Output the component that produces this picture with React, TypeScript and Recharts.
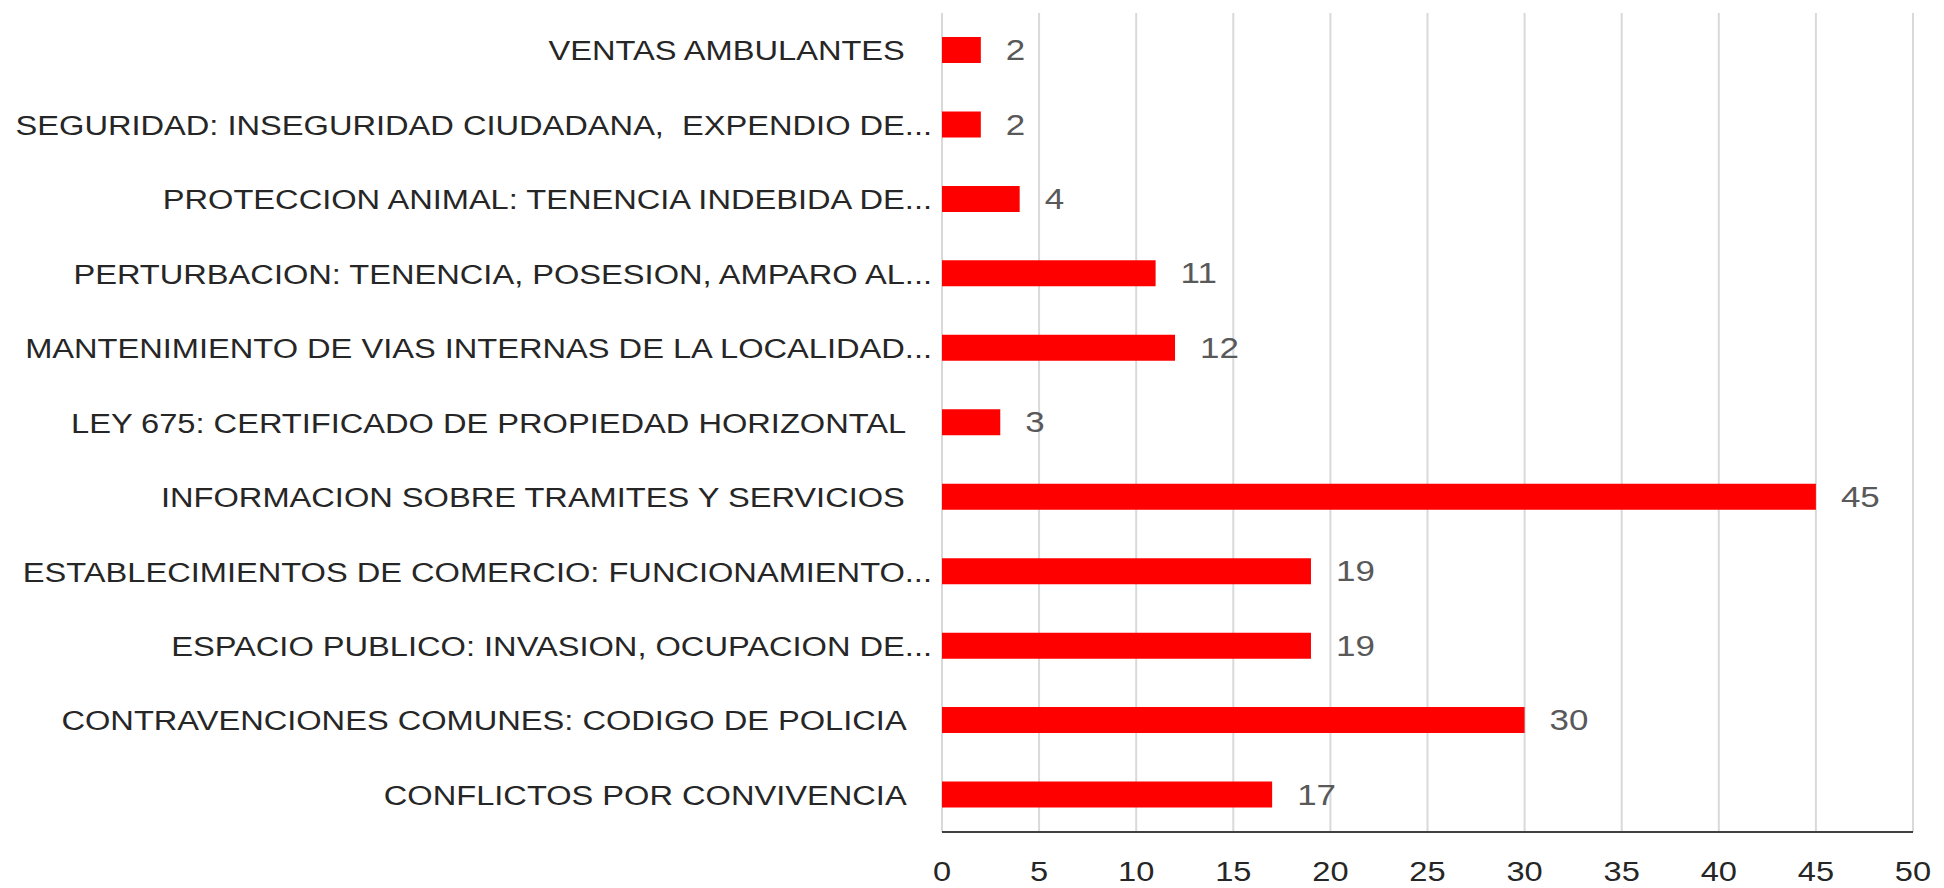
import React from "react";
import {
  BarChart,
  Bar,
  XAxis,
  YAxis,
  CartesianGrid,
  LabelList,
} from "recharts";

// categories top to bottom, as they appear in the chart
const categories = [
  "VENTAS AMBULANTES   ",
  "SEGURIDAD: INSEGURIDAD CIUDADANA,  EXPENDIO DE...",
  "PROTECCION ANIMAL: TENENCIA INDEBIDA DE...",
  "PERTURBACION: TENENCIA, POSESION, AMPARO AL...",
  "MANTENIMIENTO DE VIAS INTERNAS DE LA LOCALIDAD...",
  "LEY 675: CERTIFICADO DE PROPIEDAD HORIZONTAL   ",
  "INFORMACION SOBRE TRAMITES Y SERVICIOS   ",
  "ESTABLECIMIENTOS DE COMERCIO: FUNCIONAMIENTO...",
  "ESPACIO PUBLICO: INVASION, OCUPACION DE...",
  "CONTRAVENCIONES COMUNES: CODIGO DE POLICIA   ",
  "CONFLICTOS POR CONVIVENCIA   ",
];

const counts = [2, 2, 4, 11, 12, 3, 45, 19, 19, 30, 17];

const xTicks = [0, 5, 10, 15, 20, 25, 30, 35, 40, 45, 50];

const chartData = categories.map((name, i) => ({ name, count: counts[i] }));

const FONT = "'Liberation Sans', Arial, sans-serif";
const STRETCH = 1.165;

const CategoryTick = (props: any) => {
  const { x, y, payload } = props;
  return (
    <text
      x={0}
      y={0}
      transform={`translate(${x},${y}) scale(${STRETCH},1)`}
      textAnchor="end"
      dominantBaseline="central"
      xmlSpace="preserve"
      style={{ whiteSpace: "pre" }}
      fontFamily={FONT}
      fontSize={28}
      fill="#262626"
    >
      {payload.value}
    </text>
  );
};

const ValueTick = (props: any) => {
  const { x, y, payload } = props;
  return (
    <text
      x={0}
      y={0}
      transform={`translate(${x},${y}) scale(${STRETCH},1)`}
      textAnchor="middle"
      dominantBaseline="central"
      fontFamily={FONT}
      fontSize={28}
      fill="#262626"
    >
      {payload.value}
    </text>
  );
};

const BarValue = (props: any) => {
  const { x, y, width, height, value } = props;
  const lx = Number(x) + Number(width) + 25;
  const ly = Number(y) + Number(height) / 2;
  return (
    <text
      x={0}
      y={0}
      transform={`translate(${lx},${ly}) scale(${STRETCH},1)`}
      textAnchor="start"
      dominantBaseline="central"
      fontFamily={FONT}
      fontSize={30}
      fill="#595959"
    >
      {value}
    </text>
  );
};

const App = () => {
  return (
    <div style={{ width: 1944, height: 888, background: "#fff" }}>
      <style>{`body{margin:0;background:#fff;}`}</style>
      <BarChart
        width={1944}
        height={888}
        data={chartData}
        layout="vertical"
        margin={{ top: 13, right: 31, bottom: 0, left: 0 }}
      >
        <CartesianGrid horizontal={false} stroke="#d9d9d9" strokeWidth={2} />
        <XAxis
          type="number"
          domain={[0, 50]}
          ticks={xTicks}
          interval={0}
          height={56}
          tickLine={false}
          tickMargin={33}
          axisLine={{ stroke: "#404040", strokeWidth: 2 }}
          tick={<ValueTick />}
        />
        <YAxis
          type="category"
          dataKey="name"
          width={942}
          interval={0}
          tickLine={false}
          axisLine={false}
          tickMargin={4}
          tick={<CategoryTick />}
        />
        <Bar dataKey="count" fill="#ff0000" barSize={26} isAnimationActive={false}>
          <LabelList dataKey="count" content={<BarValue />} />
        </Bar>
      </BarChart>
    </div>
  );
};

export default App;
